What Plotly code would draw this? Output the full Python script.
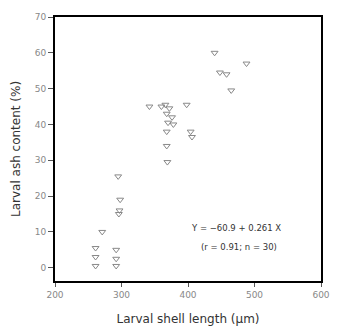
import plotly.graph_objects as go

shell_length = [261, 261, 261, 292, 292, 292, 271, 295, 298, 297, 296,
                342, 360, 366, 372, 368, 376, 370, 378, 368, 368, 369,
                398, 404, 406, 440, 448, 458, 465, 488]
ash_content = [5.5, 3, 0.5, 5, 2.5, 0.5, 10, 25.5, 19, 16, 15,
               45, 45, 45.5, 44.5, 43, 42, 40.5, 40, 38, 34, 29.5,
               45.5, 38, 36.5, 60, 54.5, 54, 49.5, 57]
x_ticks = [200, 300, 400, 500, 600]
y_ticks = [0, 10, 20, 30, 40, 50, 60, 70]

fig = go.Figure()
fig.add_trace(go.Scatter(
    x=shell_length, y=ash_content, mode="markers",
    marker=dict(symbol="triangle-down-open", size=6,
                color="#888", line=dict(width=1, color="#888")),
    showlegend=False))

fig.add_annotation(x=0.68, y=0.2, xref="paper", yref="paper",
                   xanchor="center", yanchor="middle",
                   text="Y = −60.9 + 0.261 X", showarrow=False,
                   font=dict(family="DejaVu Sans", size=8.5, color="#333"))
fig.add_annotation(x=0.69, y=0.13, xref="paper", yref="paper",
                   xanchor="center", yanchor="middle",
                   text="(r = 0.91; n = 30)", showarrow=False,
                   font=dict(family="DejaVu Sans", size=8.5, color="#333"))

fig.update_layout(
    width=342, height=336,
    margin=dict(l=55, r=12, t=12, b=50),
    paper_bgcolor="white", plot_bgcolor="white",
    font=dict(family="DejaVu Sans", color="#444"),
    xaxis=dict(range=[200, 600], tickvals=x_ticks, showgrid=False,
               zeroline=False, showline=True, linecolor="black",
               linewidth=2, mirror=True, ticks="outside", ticklen=4,
               tickcolor="#555", tickfont=dict(size=9, color="#888"),
               title=dict(text="Larval shell length (µm)",
                          font=dict(size=12, color="#333"), standoff=16)),
    yaxis=dict(range=[-3.7, 70], tickvals=y_ticks, showgrid=False,
               zeroline=False, showline=True, linecolor="black",
               linewidth=2, mirror=True, ticks="outside", ticklen=5,
               tickcolor="#555", tickfont=dict(size=9, color="#888"),
               title=dict(text="Larval ash content (%)",
                          font=dict(size=12, color="#333"), standoff=12)),
)

fig.write_html("out.html")
